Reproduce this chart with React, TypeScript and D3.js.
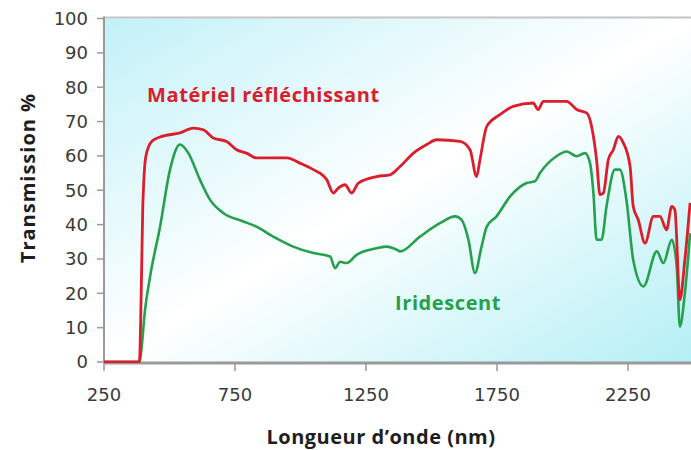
import React from "react";
import * as d3 from "d3";

const W = 691;
const H = 450;

// Matériel réfléchissant (red)
const redWave = [250, 385, 392, 398, 410, 432, 464, 540, 591, 629, 667, 718, 756, 794, 832, 947, 998, 1049, 1100, 1125, 1144, 1170, 1195, 1221, 1291, 1342, 1380, 1431, 1482, 1520, 1609, 1647, 1672, 1685, 1711, 1761, 1812, 1888, 1907, 1927, 2016, 2054, 2092, 2111, 2130, 2143, 2156, 2175, 2194, 2213, 2232, 2258, 2270, 2289, 2315, 2347, 2372, 2397, 2417, 2429, 2448, 2467, 2487];
const redVals = [0, 0, 20, 45, 60, 64.2, 65.5, 66.7, 68.1, 67.6, 65.2, 64.2, 61.8, 60.8, 59.4, 59.4, 57.9, 56.0, 53.1, 49.2, 50.6, 51.6, 49.2, 52.1, 54.0, 54.5, 56.9, 60.8, 63.3, 64.7, 64.2, 61.8, 54.0, 58.9, 68.6, 72.0, 74.4, 75.4, 73.5, 75.9, 75.9, 73.5, 72.5, 68.6, 58.9, 48.7, 49.2, 58.9, 61.8, 65.7, 63.8, 56.9, 45.3, 41.4, 34.6, 42.4, 42.4, 38.5, 45.3, 44.3, 18.1, 29.7, 46.3];

// Iridescent (green)
const greenWave = [250, 385, 392, 405, 426, 464, 502, 540, 572, 616, 655, 705, 782, 832, 896, 972, 1049, 1113, 1132, 1151, 1176, 1214, 1291, 1329, 1367, 1380, 1456, 1532, 1590, 1615, 1641, 1666, 1691, 1711, 1748, 1800, 1863, 1895, 1914, 1977, 2016, 2054, 2086, 2105, 2118, 2130, 2149, 2168, 2200, 2219, 2244, 2270, 2309, 2360, 2385, 2417, 2436, 2448, 2467, 2487];
const greenVals = [0, 0, 3, 14, 24.9, 39.4, 56.0, 63.3, 60.8, 53.1, 47.2, 43.4, 40.9, 39.4, 36.5, 33.6, 31.7, 30.7, 27.3, 29.2, 28.8, 31.2, 33.1, 33.6, 32.7, 32.2, 36.5, 40.4, 42.4, 41.4, 35.6, 25.9, 33.6, 39.4, 42.4, 48.2, 52.1, 52.6, 55.0, 59.9, 61.3, 59.9, 60.8, 57.9, 49.2, 35.6, 35.6, 45.3, 56.0, 56.0, 47.2, 29.7, 22.0, 32.2, 28.8, 35.6, 27.8, 10.3, 20.0, 37.5];

const xTicks = [250, 750, 1250, 1750, 2250];
const yTicks = [0, 10, 20, 30, 40, 50, 60, 70, 80, 90, 100];

const seriesNames = ["Matériel réfléchissant", "Iridescent"];
const xTitle = "Longueur d’onde (nm)";
const yTitle = "Transmission %";

export default function App() {
  const left = 104;
  const right = 691;
  const top = 18.5;
  const bottom = 362;

  const x = d3.scaleLinear().domain([250, 2250]).range([left, 628]);
  const y = d3.scaleLinear().domain([0, 100]).range([bottom, top]);

  const line = d3
    .line<[number, number]>()
    .x((d) => x(d[0]))
    .y((d) => y(d[1]))
    .curve(d3.curveMonotoneX);

  const redPath = line(redWave.map((w, i) => [w, redVals[i]]) as [number, number][]) || "";
  const greenPath = line(greenWave.map((w, i) => [w, greenVals[i]]) as [number, number][]) || "";

  const tickFont = "'DejaVu Sans', Verdana, sans-serif";
  const titleFont = "'Open Sans', 'DejaVu Sans', sans-serif";

  return (
    <svg
      width={W}
      height={H}
      style={{ position: "absolute", left: 0, top: 0, display: "block" }}
    >
      <defs>
        <linearGradient id="bg" x1="0" y1="0" x2="1" y2="1">
          <stop offset="0" stopColor="#c2f1f8" />
          <stop offset="0.5" stopColor="#ffffff" />
          <stop offset="1" stopColor="#b4eff5" />
        </linearGradient>
        <clipPath id="plotclip">
          <rect x={left} y={top - 5} width={right - left} height={bottom - top + 6} />
        </clipPath>
      </defs>
      <rect x={0} y={0} width={W} height={H} fill="#ffffff" />
      <rect x={left} y={top} width={right - left} height={bottom - top} fill="url(#bg)" />
      {/* top frame line */}
      <line x1={left} x2={right} y1={top - 1} y2={top - 1} stroke="#c4c4c4" strokeWidth={2} />

      {/* y axis */}
      <line x1={left} x2={left} y1={top - 2} y2={bottom + 1} stroke="#9a9a9a" strokeWidth={2} />
      {yTicks.map((t) => (
        <g key={"y" + t}>
          <line x1={left - 7} x2={left} y1={y(t)} y2={y(t)} stroke="#9a9a9a" strokeWidth={1.5} />
          <text
            x={88}
            y={y(t)}
            dy="0.36em"
            textAnchor="end"
            fontFamily={tickFont}
            fontSize={18}
            fill="#3a3a3a"
          >
            {t}
          </text>
        </g>
      ))}

      {/* x axis */}
      <line x1={left} x2={right} y1={bottom + 1} y2={bottom + 1} stroke="#9a9a9a" strokeWidth={3} />
      {xTicks.map((t) => (
        <g key={"x" + t}>
          <line x1={x(t)} x2={x(t)} y1={bottom} y2={bottom + 9} stroke="#9a9a9a" strokeWidth={1.5} />
          <text
            x={x(t)}
            y={395}
            dy="0.36em"
            textAnchor="middle"
            fontFamily={tickFont}
            fontSize={18}
            fill="#3a3a3a"
          >
            {t}
          </text>
        </g>
      ))}

      <g clipPath="url(#plotclip)">
        <path d={greenPath} fill="none" stroke="#25a04c" strokeWidth={2.6} strokeLinejoin="round" />
        <path d={redPath} fill="none" stroke="#dc1d2c" strokeWidth={2.8} strokeLinejoin="round" />
      </g>

      <text
        x={147}
        y={95}
        dy="0.36em"
        fontFamily={titleFont}
        fontWeight={700}
        fontSize={20}
        letterSpacing={0.6}
        fill="#d8202c"
      >
        {seriesNames[0]}
      </text>
      <text
        x={395}
        y={303}
        dy="0.36em"
        fontFamily={titleFont}
        fontWeight={700}
        fontSize={20}
        letterSpacing={0.6}
        fill="#25a04c"
      >
        {seriesNames[1]}
      </text>

      <text
        x={381}
        y={437}
        dy="0.36em"
        textAnchor="middle"
        fontFamily={titleFont}
        fontWeight={700}
        fontSize={20}
        letterSpacing={0.5}
        fill="#1e1e1e"
      >
        {xTitle}
      </text>
      <text
        transform={`translate(28,${178}) rotate(-90)`}
        textAnchor="middle"
        dy="0.36em"
        fontFamily={titleFont}
        fontWeight={700}
        fontSize={20}
        letterSpacing={1}
        fill="#1e1e1e"
      >
        {yTitle}
      </text>
    </svg>
  );
}
